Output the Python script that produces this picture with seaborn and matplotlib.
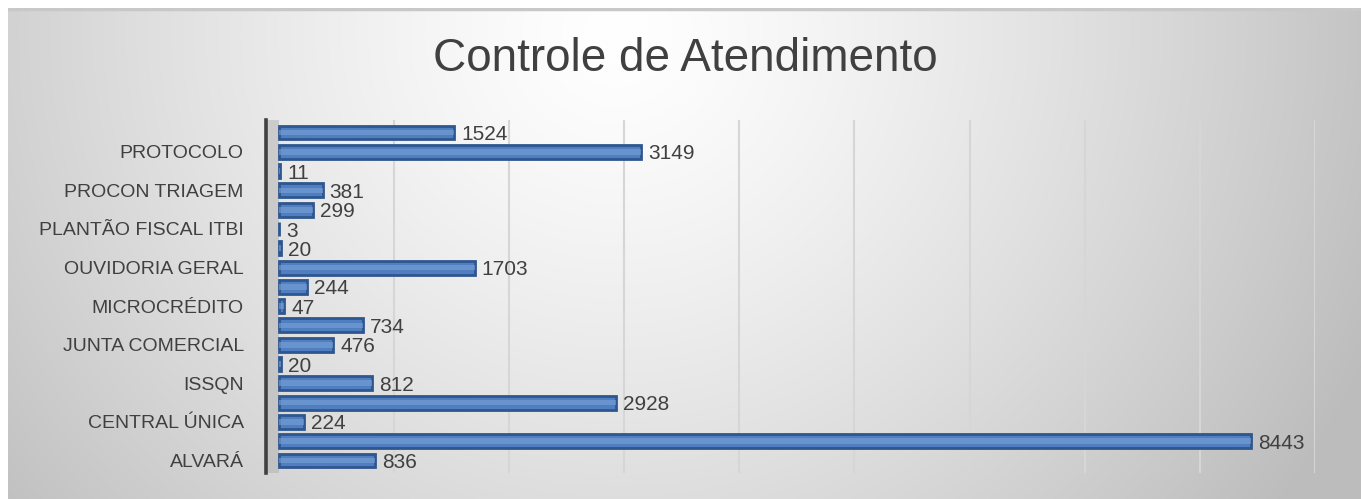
import numpy as np
import pandas as pd
import matplotlib
matplotlib.use("Agg")
import matplotlib.pyplot as plt
import seaborn as sns

# ---- data (top to bottom as drawn) ----
tick_labels = ["", "PROTOCOLO", "", "PROCON TRIAGEM", "", "PLANTÃO FISCAL ITBI",
               "", "OUVIDORIA GERAL", "", "MICROCRÉDITO", "", "JUNTA COMERCIAL",
               "", "ISSQN", "", "CENTRAL ÚNICA", "", "ALVARÁ"]
values = [1524, 3149, 11, 381, 299, 3, 20, 1703, 244, 47, 734, 476, 20, 812,
          2928, 224, 8443, 836]
title = "Controle de Atendimento"

sns.set_theme(style="white")
FONT = ["Liberation Sans", "DejaVu Sans"]
plt.rcParams["font.family"] = FONT
TXT = "#404040"

W, H = 1361, 499
fig = plt.figure(figsize=(W / 100, H / 100), dpi=100)
fig.patch.set_facecolor("white")

# background gradient panel
bg = fig.add_axes([8 / W, 0, 1 - 8 / W, 1 - 8 / H])
bg.set_axis_off()
yy, xx = np.mgrid[0:1:300j, 0:1:800j]
d = np.sqrt(((xx - 0.45) * 1.6) ** 2 + ((yy - 0.05) * 0.6) ** 2)
g = np.clip(1.0 - 0.27 * d ** 1.3, 0.74, 1.0)
bg.imshow(np.dstack([g, g, g]), aspect="auto", extent=[0, 1, 1, 0], interpolation="bilinear")
bg.set_xlim(0, 1); bg.set_ylim(1, 0)
bg.axhline(0.003, color="#c8c8c8", lw=2.5)

# main axes
left_px, right_px = 266, 1315
top_px, bot_px = 120, 473
ax = fig.add_axes([left_px / W, 1 - bot_px / H, (right_px - left_px) / W, (bot_px - top_px) / H])
ax.patch.set_alpha(0)

df = pd.DataFrame({"key": [f"c{i:02d}" for i in range(len(values))], "value": values})
order = list(df["key"])
sns.barplot(data=df, x="value", y="key", order=order, orient="h", width=0.72,
            color="#4F7FC0", edgecolor="#2E568F", linewidth=2.0, saturation=1, ax=ax, zorder=3)
sns.barplot(data=df, x="value", y="key", order=order, orient="h", width=0.3,
            color="#7BA2D7", edgecolor="none", saturation=1, ax=ax, zorder=4, alpha=0.6)

ax.set_xlim(-110, 9000)
ax.set_ylim(len(values) - 0.35, -0.65)
ax.axvspan(-110, 0, color="#b0b0b0", alpha=0.5, lw=0, zorder=1)
ax.set_xticks(np.arange(1000, 9001, 1000))
ax.set_xticklabels([])
ax.grid(axis="x", color="#d6d6d6", lw=1.5, zorder=0)
ax.grid(axis="y", visible=False)
ax.set_yticks(range(len(values)))
ax.set_yticklabels(tick_labels, fontsize=14, color=TXT)
ax.tick_params(axis="y", length=0, pad=16)
ax.tick_params(axis="x", length=0)
ax.set_xlabel(""); ax.set_ylabel("")
for s in ["top", "right", "bottom"]:
    ax.spines[s].set_visible(False)
ax.spines["left"].set_color("#404040")
ax.spines["left"].set_linewidth(2.6)

for i, v in enumerate(values):
    ax.annotate(f"{v}", xy=(v, i), xytext=(5, -1.5), textcoords="offset points",
                ha="left", va="center", fontsize=15, color=TXT, zorder=5)

fig.text(685 / W, 1 - 59 / H, title, ha="center", va="center", fontsize=33, color=TXT)

fig.savefig("out.png", dpi=100, facecolor=fig.get_facecolor())
